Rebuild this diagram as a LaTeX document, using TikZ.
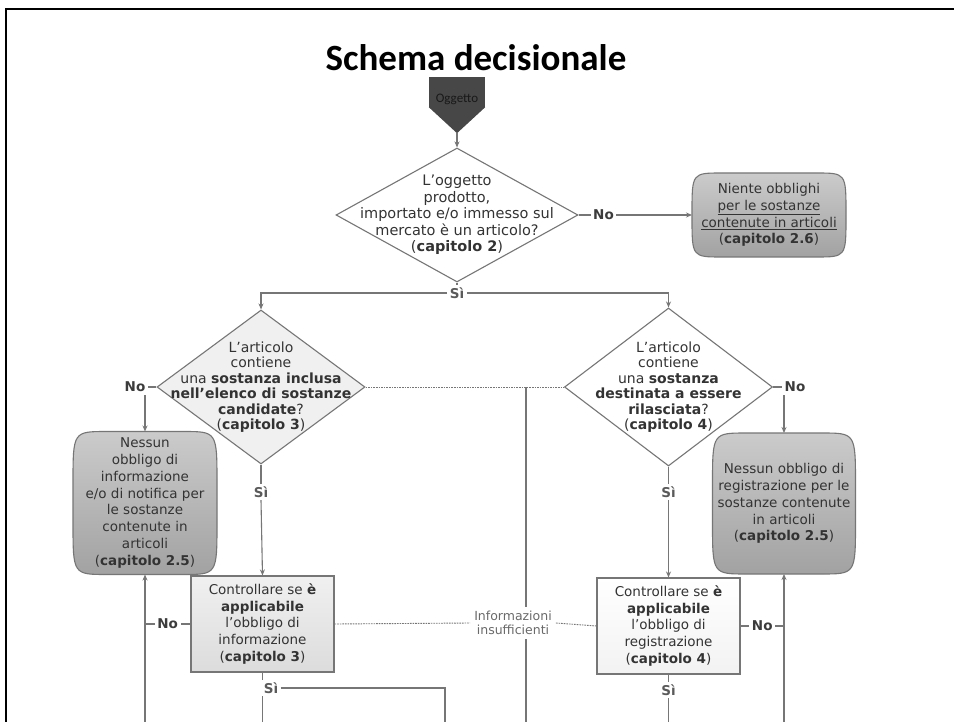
\documentclass[tikz,border=0pt]{standalone}
\usepackage{fontspec}
\setmainfont{DejaVu Sans}
\newfontfamily\titlefont{Carlito}
\usetikzlibrary{arrows.meta,shapes.geometric,calc,backgrounds}
\definecolor{ink}{HTML}{333333}
\definecolor{linecol}{HTML}{767676}
\definecolor{labcol}{HTML}{3C3C3C}
\definecolor{sicol}{HTML}{5A5A5A}
\definecolor{oggfill}{HTML}{474747}
\definecolor{termtop}{HTML}{CBCBCB}
\definecolor{termbot}{HTML}{A2A2A2}
\definecolor{paleA}{HTML}{F0F0F0}
\definecolor{paleB}{HTML}{DCDCDC}
\definecolor{infocol}{HTML}{6A6A6A}
\newcommand\bodyfs{\fontsize{13.5}{16.8}\selectfont}
\newcommand\diafs{\fontsize{14}{15.5}\selectfont}
% barrel-like outline behind an end node: node name, corner width, corner height
\newcommand\termpath[3]{%
  \path[termbg] ($(#1.north west)+(#2,0)$) -- ($(#1.north east)+(-#2,0)$)
    .. controls (#1.north east) .. ($(#1.north east)+(0,#3)$)
    -- ($(#1.south east)+(0,-#3)$)
    .. controls (#1.south east) .. ($(#1.south east)+(-#2,0)$)
    -- ($(#1.south west)+(#2,0)$)
    .. controls (#1.south west) .. ($(#1.south west)+(0,-#3)$)
    -- ($(#1.north west)+(0,#3)$)
    .. controls (#1.north west) .. ($(#1.north west)+(#2,0)$) -- cycle;}

\begin{document}
\begin{tikzpicture}[x=1pt,y=-1pt,
  ln/.style={draw=linecol,line width=1.1pt},
  arr/.style={ln,-{Stealth[length=6pt,width=5pt]}},
  dots/.style={draw=linecol,line width=0.9pt,dash pattern=on 1.6pt off 1pt},
  dia/.style={diamond,draw=linecol,line width=1.1pt,inner sep=0pt,fill=white},
  dtext/.style={align=center,font=\diafs,text=ink,inner sep=0pt},
  term/.style={rectangle,align=center,font=\bodyfs,text=ink,inner sep=0pt,outer sep=0pt},
  termbg/.style={draw=linecol,line width=1.1pt,top color=termtop,bottom color=termbot},
  check/.style={rectangle,draw=linecol,line width=1.1pt,align=center,font=\bodyfs,text=ink,minimum width=143pt,minimum height=96pt,inner sep=0pt},
  lab/.style={font=\bodyfs\bfseries,text=labcol,fill=white,inner sep=2.5pt},
  silab/.style={lab,text=sicol},
  ogg/.style={rectangle,fill=oggfill,minimum width=56pt,minimum height=30pt,inner sep=0pt,text height=24pt,text depth=2pt,text=black!90,font=\titlefont\fontsize{13}{14}\selectfont},
  info/.style={align=center,font=\fontsize{12.5}{14.5}\selectfont,text=infocol,inner sep=4pt}
]
\useasboundingbox (0,0) rectangle (954,722);
\begin{scope}[on background layer]
  \fill[white] (0,0) rectangle (954,722);
\end{scope}
\draw[line width=2.5pt] (6,722) -- (6,9) -- (954,9);
\coordinate (bot) at (0,722);

% title and start
\node[anchor=base,font=\titlefont\fontsize{37}{40}\selectfont\bfseries] (title) at (476,71) {Schema decisionale};
\node[ogg] (start) at (457,92) {Oggetto};
\fill[oggfill] (start.south west) -- (start.south east) -- ($(start.south)+(0,26)$) coordinate (starttip) -- cycle;

% first question
\node[dia,minimum width=242pt,minimum height=134pt] (q1) at (457,215) {};
\node[dtext,font=\fontsize{14.5}{16.5}\selectfont] (q1t) at (q1) {L’oggetto\\prodotto,\\importato e/o immesso sul\\mercato è un articolo?\\(\textbf{capitolo 2})};
\node[term,minimum width=154pt,minimum height=84pt] (end26) at (769,215) {Niente obblighi\\\underline{per le sostanze}\\\underline{contenute in articoli}\\(\textbf{capitolo 2.6})};
\draw[arr] (starttip) -- (q1.north);
\draw[arr] (q1.east) -- node[lab,pos=0.22]{No} (end26.west);
\node[silab] (si1) at (457,293) {Sì};
\draw[ln] (q1.south) -- (si1.north);

% second level
\node[dia,fill=paleA,minimum width=208pt,minimum height=154pt] (q2) at (261,387) {};
\node[dtext] (q2t) at (q2) {L’articolo\\contiene\\una \textbf{sostanza inclusa}\\\textbf{nell’elenco di sostanze}\\\textbf{candidate}?\\(\textbf{capitolo 3})};
\node[dia,minimum width=208pt,minimum height=158pt] (q3) at (668.5,387) {};
\node[dtext] (q3t) at (q3) {L’articolo\\contiene\\una \textbf{sostanza}\\\textbf{destinata a essere}\\\textbf{rilasciata}?\\(\textbf{capitolo 4})};
\draw[arr] (si1.west) -| (q2.north);
\draw[arr] (si1.east) -| (q3.north);

\node[term,minimum width=144pt,minimum height=143pt] (end25a) at (145,503) {Nessun\\obbligo di\\informazione\\e/o di notifica per\\le sostanze\\contenute in\\articoli\\(\textbf{capitolo 2.5})};
\node[term,minimum width=143pt,minimum height=141pt] (end25b) at (784,503.5) {Nessun obbligo di\\registrazione per le\\sostanze contenute\\in articoli\\(\textbf{capitolo 2.5})};
\draw[arr] (q2.west) -| node[lab,pos=0.5,xshift=-10pt]{No} (end25a.north);
\draw[arr] (q3.east) -| node[lab,pos=0.5,xshift=11pt]{No} (end25b.north);

\begin{scope}[on background layer]
  \termpath{end26}{30}{40}
  \termpath{end25a}{34}{52}
  \termpath{end25b}{34}{52}
\end{scope}

% checks
\node[check,top color=paleA,bottom color=paleB] (chk3) at (262.5,624) {Controllare se \textbf{è}\\\textbf{applicabile}\\l’obbligo di\\informazione\\(\textbf{capitolo 3})};
\node[check,top color=white,bottom color=black!5] (chk4) at (668.5,626) {Controllare se \textbf{è}\\\textbf{applicabile}\\l’obbligo di\\registrazione\\(\textbf{capitolo 4})};
\node[silab] (si2) at (261,492) {Sì};
\node[silab] (si3) at (668.5,492) {Sì};
\draw[ln] (q2.south) -- (si2.north);
\draw[arr] (si2.south) -- (chk3.north);
\draw[ln] (q3.south) -- (si3.north);
\draw[arr] (si3.south) -- (chk4.north);

\draw[arr] (end25a.south |- bot) -- (end25a.south);
\draw[ln] (chk3.west) -- node[lab]{No} (chk3.west -| end25a.south);
\draw[arr] (end25b.south |- bot) -- (end25b.south);
\draw[ln] (chk4.east) -- node[lab]{No} (chk4.east -| end25b.south);

% insufficient information
\node[info] (info) at (513,623) {Informazioni\\insufficienti};
\coordinate (vx) at (526,387);
\draw[dots] (q2.east) -- (q3.west);
\draw[dots] (chk3.east) -- (info.west);
\draw[dots] (info.east) -- (chk4.west);
\draw[ln] (vx) -- (vx |- info.north);
\draw[ln] (vx |- info.south) -- (vx |- bot);

% yes below checks
\draw[ln] (chk3.south) -- (chk3.south |- bot);
\node[silab] (si4) at (271,688) {Sì};
\coordinate (out3) at (445,722);
\draw[ln] (si4.east) -| (out3);
\draw[ln] (chk4.south) -- (chk4.south |- bot);
\node[silab] (si5) at (668.5,690) {Sì};
\end{tikzpicture}
\end{document}
